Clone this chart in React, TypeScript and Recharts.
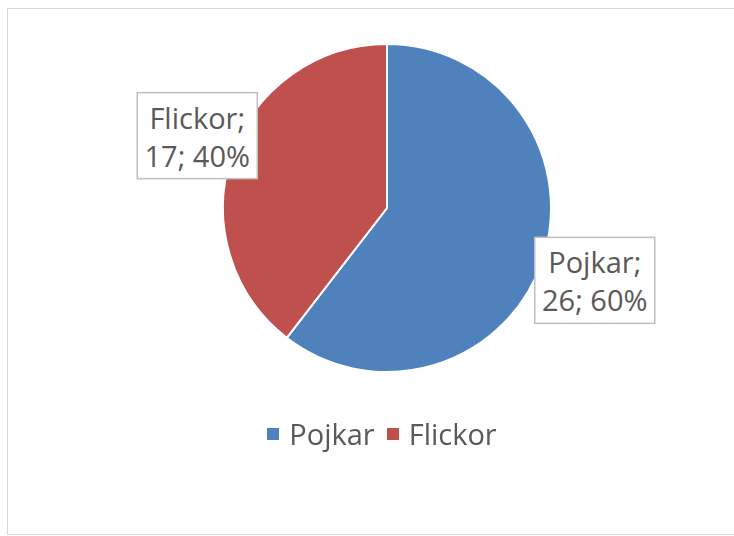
import { PieChart, Pie, Cell, Legend } from "recharts";

const CATEGORIES = ["Pojkar", "Flickor"];
const COUNTS = [26, 17];
const COLORS = ["#4F81BD", "#C0504D"];

const data = CATEGORIES.map((name, i) => ({ name, value: COUNTS[i] }));
const total = COUNTS.reduce((a, b) => a + b, 0);

const FONT = "'Open Sans', 'Liberation Sans', sans-serif";
const TEXT = "#595959";
const RAD = Math.PI / 180;

function renderLabel(props: any) {
  const { cx, cy, midAngle, outerRadius, name, value } = props;
  const r = outerRadius + 46;
  const x = cx + r * Math.cos(-midAngle * RAD) + 9;
  const y = cy + (r + 14) * Math.sin(-midAngle * RAD);
  const pct = Math.round((value / total) * 100);
  const w = 120;
  const h = 86;
  return (
    <g>
      <rect x={x - w / 2} y={y - h / 2} width={w} height={h} fill="#fff" stroke="#BFBFBF" strokeWidth={1.5} />
      <text x={x} y={y - 7} textAnchor="middle" fill={TEXT} fontSize={29} fontFamily={FONT}>
        {name};
      </text>
      <text x={x} y={y + 31} textAnchor="middle" fill={TEXT} fontSize={29} fontFamily={FONT}>
        {value}; {pct}%
      </text>
    </g>
  );
}

function LegendContent() {
  return (
    <div style={{ display: "flex", justifyContent: "center", alignItems: "center", gap: "12px", fontFamily: FONT, fontSize: "29px", color: TEXT }}>
      {CATEGORIES.map((c, i) => (
        <div key={c} style={{ display: "flex", alignItems: "center", gap: "10px" }}>
          <span style={{ width: "12px", height: "12px", background: COLORS[i], display: "inline-block" }} />
          <span>{c}</span>
        </div>
      ))}
    </div>
  );
}

export default function App() {
  return (
    <div style={{ position: "fixed", left: 0, top: 0, width: 734, height: 536, background: "#fff" }}>
      <div style={{ position: "absolute", left: 7, top: 8, width: 740, height: 525, border: "1px solid #D9D9D9" }} />
      <PieChart width={734} height={536}>
        <Pie
          data={data}
          dataKey="value"
          nameKey="name"
          cx={382}
          cy={203}
          outerRadius={164}
          startAngle={90}
          endAngle={-270}
          stroke="#fff"
          strokeWidth={2}
          label={renderLabel}
          labelLine={false}
          isAnimationActive={false}
        >
          {data.map((d, i) => (
            <Cell key={d.name} fill={COLORS[i]} />
          ))}
        </Pie>
        <Legend
          content={<LegendContent />}
          wrapperStyle={{ position: "absolute", top: 414, left: 15, width: 734 }}
        />
      </PieChart>
    </div>
  );
}
